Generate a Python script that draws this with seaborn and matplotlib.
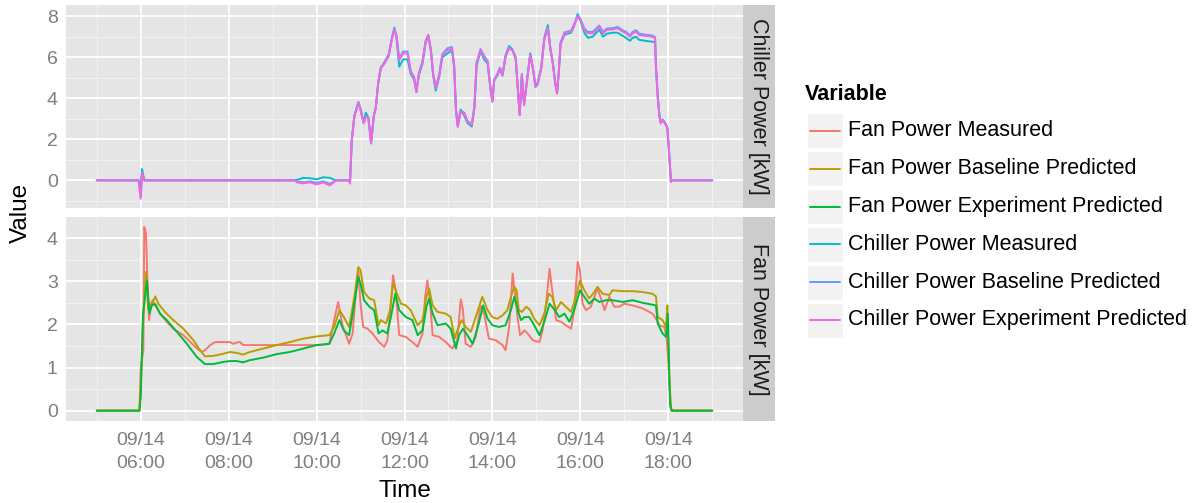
import numpy as np
import pandas as pd
import matplotlib
matplotlib.use("Agg")
import matplotlib.pyplot as plt
import matplotlib.dates as mdates
from matplotlib.lines import Line2D
from matplotlib.patches import Rectangle
import seaborn as sns

# ---------------- data (hours of day, kW) ----------------
chiller_meas_t = [5.0, 5.95, 6.0, 6.03, 6.08, 9.5, 9.6, 9.7, 9.85, 10.0, 10.15, 10.3, 10.43, 10.74, 10.76, 10.8, 10.86,
                  10.95, 11.0, 11.07, 11.12, 11.18, 11.24, 11.3, 11.35, 11.4, 11.46, 11.54, 11.64, 11.71, 11.77, 11.82,
                  11.88, 11.97, 12.07, 12.14, 12.22, 12.27, 12.33, 12.41, 12.48, 12.54, 12.6, 12.65, 12.71, 12.79, 12.86,
                  12.98, 13.08, 13.13, 13.17, 13.21, 13.28, 13.36, 13.43, 13.53, 13.59, 13.64, 13.73, 13.81, 13.89, 13.96,
                  14.0, 14.04, 14.11, 14.17, 14.23, 14.3, 14.38, 14.45, 14.53, 14.58, 14.62, 14.67, 14.72, 14.8, 14.86,
                  14.92, 14.98, 15.03, 15.11, 15.18, 15.26, 15.32, 15.37, 15.43, 15.47, 15.51, 15.55, 15.64, 15.79, 15.86,
                  15.94, 16.0, 16.09, 16.17, 16.28, 16.43, 16.52, 16.6, 16.73, 16.85, 16.96, 17.04, 17.13, 17.19, 17.27,
                  17.34, 17.49, 17.64, 17.7, 17.72, 17.76, 17.8, 17.83, 17.87, 17.95, 17.98, 18.02, 18.06, 18.1, 19.0]
chiller_meas_v = [0, 0, -0.3, 0.55, 0, 0, 0.05, 0.12, 0.1, 0.05, 0.15, 0.12, 0.0, 0, -0.12, 1.95, 3.15,
                  3.8, 3.5, 2.85, 3.3, 3.05, 1.85, 3.1, 3.6, 4.7, 5.45, 5.7, 6.05, 6.9, 7.45, 6.9,
                  5.54, 5.9, 5.9, 5.2, 4.9, 4.3, 5.15, 5.7, 6.7, 7.05, 6.3, 5.15, 4.37, 5.05, 6.0,
                  6.19, 6.35, 5.5, 3.5, 2.7, 3.45, 3.15, 2.8, 2.62, 3.5, 5.6, 6.3, 5.9, 5.7, 4.35,
                  3.85, 4.85, 5.1, 5.4, 5.1, 6.1, 6.55, 6.4, 5.9, 4.4, 3.2, 5.15, 3.7, 5.1, 6.2,
                  5.45, 4.55, 4.7, 5.45, 6.95, 7.57, 6.4, 5.75, 4.7, 4.25, 5.25, 6.65, 7.1, 7.2, 7.55,
                  8.11, 7.8, 7.2, 6.95, 7.0, 7.35, 7.0, 7.15, 7.2, 7.2, 7.05, 6.95, 6.8, 6.95, 7.0,
                  6.85, 6.8, 6.76, 6.72, 5.5, 4.1, 3.15, 2.85, 2.95, 2.72, 2.55, 1.35, -0.05, 0, 0]

chiller_base_t = [5.0, 5.95, 6.0, 6.03, 6.08, 9.5, 9.55, 9.7, 9.85, 10.0, 10.15, 10.3, 10.42, 10.45, 10.74, 10.76, 10.8,
                  10.86, 10.95, 11.0, 11.07, 11.12, 11.18, 11.24, 11.3, 11.35, 11.4, 11.46, 11.54, 11.64, 11.71, 11.77,
                  11.82, 11.88, 11.97, 12.07, 12.14, 12.22, 12.27, 12.33, 12.41, 12.48, 12.54, 12.6, 12.65, 12.71, 12.79,
                  12.86, 12.98, 13.08, 13.13, 13.17, 13.21, 13.28, 13.36, 13.43, 13.53, 13.59, 13.64, 13.73, 13.81, 13.89,
                  13.96, 14.0, 14.04, 14.11, 14.17, 14.23, 14.3, 14.38, 14.45, 14.53, 14.58, 14.62, 14.67, 14.72, 14.8,
                  14.86, 14.92, 14.98, 15.03, 15.11, 15.18, 15.26, 15.32, 15.37, 15.43, 15.47, 15.51, 15.55, 15.64, 15.79,
                  15.86, 15.94, 16.0, 16.09, 16.17, 16.28, 16.43, 16.52, 16.6, 16.73, 16.85, 16.96, 17.04, 17.13, 17.19,
                  17.27, 17.34, 17.49, 17.64, 17.7, 17.72, 17.76, 17.8, 17.83, 17.87, 17.95, 17.98, 18.02, 18.06, 18.1, 19.0]
chiller_base_v = [0, 0, -0.8, 0.4, 0, 0, -0.05, -0.1, -0.05, -0.12, -0.05, -0.18, -0.03, 0, 0, -0.14, 1.95,
                  3.12, 3.82, 3.45, 2.8, 3.15, 3.02, 1.82, 3.12, 3.6, 4.75, 5.5, 5.75, 6.15, 6.88, 7.38,
                  7.05, 5.95, 6.28, 6.28, 5.35, 5.02, 4.36, 5.25, 5.82, 6.8, 7.1, 6.4, 5.25, 4.52, 5.18,
                  6.15, 6.45, 6.5, 5.6, 3.45, 2.65, 3.38, 3.3, 2.9, 2.74, 3.62, 5.75, 6.4, 6.08, 5.82,
                  4.45, 3.88, 4.92, 5.18, 5.5, 5.18, 6.08, 6.48, 6.4, 6.0, 4.45, 3.22, 5.18, 3.7, 5.1,
                  6.15, 5.5, 4.6, 4.78, 5.5, 6.9, 7.45, 6.4, 5.82, 4.76, 4.27, 5.33, 6.72, 7.22, 7.3,
                  7.62, 8.02, 7.88, 7.4, 7.24, 7.24, 7.55, 7.24, 7.4, 7.42, 7.48, 7.32, 7.24, 7.06, 7.24,
                  7.32, 7.15, 7.1, 7.06, 6.98, 5.6, 4.1, 3.12, 2.8, 2.97, 2.72, 2.55, 1.32, -0.07, 0, 0]

chiller_exp_t = chiller_base_t
chiller_exp_v = [0, 0, -0.9, 0.35, 0, 0, -0.1, -0.15, -0.1, -0.2, -0.1, -0.25, -0.05, 0, 0, -0.16, 1.95,
                 3.1, 3.78, 3.42, 2.77, 3.1, 3.0, 1.79, 3.1, 3.58, 4.72, 5.46, 5.7, 6.1, 6.84, 7.36,
                 7.0, 5.86, 6.19, 6.19, 5.29, 4.97, 4.32, 5.21, 5.78, 6.76, 7.08, 6.35, 5.21, 4.48, 5.13,
                 6.1, 6.35, 6.43, 5.54, 3.42, 2.6, 3.34, 3.26, 2.85, 2.69, 3.58, 5.7, 6.35, 6.03, 5.78,
                 4.4, 3.83, 4.89, 5.13, 5.46, 5.13, 6.03, 6.43, 6.35, 5.94, 4.4, 3.18, 5.13, 3.66, 5.05,
                 6.1, 5.46, 4.56, 4.72, 5.46, 6.84, 7.41, 6.35, 5.78, 4.72, 4.23, 5.29, 6.68, 7.17, 7.25,
                 7.57, 7.98, 7.82, 7.33, 7.17, 7.17, 7.49, 7.17, 7.33, 7.36, 7.41, 7.25, 7.17, 7.0, 7.17,
                 7.25, 7.08, 7.04, 7.0, 6.92, 5.54, 4.07, 3.09, 2.77, 2.93, 2.69, 2.52, 1.3, -0.08, 0, 0]

fan_meas_t = [5.0, 5.97, 6.0, 6.06, 6.08, 6.12, 6.15, 6.19, 6.23, 6.27, 6.33, 6.44, 6.59, 6.74, 6.97, 7.12, 7.27,
              7.39, 7.46, 7.58, 7.69, 8.03, 8.11, 8.18, 8.26, 8.33, 9.0, 9.7, 10.06, 10.29, 10.4, 10.49, 10.59, 10.74,
              10.82, 10.89, 10.95, 11.0, 11.06, 11.16, 11.27, 11.42, 11.54, 11.61, 11.69, 11.74, 11.8, 11.88, 12.03,
              12.18, 12.3, 12.41, 12.47, 12.52, 12.58, 12.64, 12.79, 12.94, 13.09, 13.2, 13.28, 13.33, 13.39, 13.51,
              13.62, 13.73, 13.81, 13.92, 14.08, 14.23, 14.3, 14.38, 14.46, 14.52, 14.58, 14.63, 14.73, 14.8, 14.92,
              15.07, 15.14, 15.22, 15.3, 15.36, 15.45, 15.56, 15.67, 15.79, 15.86, 15.94, 15.99, 16.05, 16.13, 16.24,
              16.39, 16.47, 16.55, 16.66, 16.77, 16.89, 17.0, 17.19, 17.42, 17.64, 17.72, 17.8, 17.91, 17.96, 18.0,
              18.05, 18.08, 19.0]
fan_meas_v = [0, 0, 1.0, 1.4, 4.26, 4.1, 3.1, 2.1, 2.48, 2.56, 2.44, 2.25, 2.06, 1.9, 1.75, 1.6, 1.45,
              1.36, 1.4, 1.52, 1.59, 1.59, 1.55, 1.58, 1.59, 1.52, 1.52, 1.52, 1.52, 1.55, 2.1, 2.52, 1.98, 1.55,
              1.79, 2.71, 3.26, 2.48, 1.94, 1.9, 1.79, 1.59, 1.48, 1.63, 2.48, 3.14, 2.79, 1.75, 1.71,
              1.59, 1.48, 1.79, 2.64, 3.02, 2.56, 1.75, 1.71, 1.59, 1.44, 1.63, 2.58, 2.33, 1.55, 1.48,
              1.71, 2.44, 2.25, 1.67, 1.63, 1.52, 1.4, 1.94, 3.18, 2.64, 2.1, 1.75, 1.86, 1.79, 1.63,
              1.59, 1.86, 2.48, 3.29, 2.79, 2.1, 2.06, 1.98, 1.9, 2.33, 3.45, 3.26, 2.48, 2.33, 2.41,
              2.83, 2.6, 2.33, 2.64, 2.41, 2.41, 2.48, 2.44, 2.37, 2.25, 2.13, 1.98, 1.94, 1.71, 1.17,
              0.09, 0, 0]

fan_base_t = [5.0, 5.97, 6.0, 6.05, 6.12, 6.17, 6.23, 6.33, 6.4, 6.55, 6.74, 6.97, 7.2, 7.35, 7.46, 7.65, 7.88,
              8.03, 8.18, 8.33, 8.48, 8.79, 9.09, 9.39, 9.7, 10.0, 10.29, 10.4, 10.52, 10.62, 10.74, 10.86, 10.95,
              11.0, 11.08, 11.2, 11.31, 11.41, 11.46, 11.58, 11.67, 11.74, 11.8, 11.92, 12.03, 12.14, 12.3, 12.41,
              12.5, 12.56, 12.64, 12.75, 12.94, 13.05, 13.14, 13.2, 13.3, 13.39, 13.51, 13.62, 13.77, 13.89, 14.0,
              14.11, 14.23, 14.34, 14.44, 14.5, 14.55, 14.6, 14.67, 14.77, 14.86, 14.95, 15.07, 15.18, 15.28, 15.36,
              15.45, 15.56, 15.67, 15.79, 15.9, 15.99, 16.09, 16.2, 16.32, 16.39, 16.51, 16.66, 16.73, 16.96, 17.19,
              17.42, 17.64, 17.72, 17.76, 17.87, 17.95, 17.98, 18.02, 18.07, 19.0]
fan_base_v = [0, 0, 0.5, 2.0, 3.22, 2.33, 2.4, 2.65, 2.48, 2.29, 2.1, 1.9, 1.63, 1.4, 1.26, 1.27, 1.32,
              1.36, 1.34, 1.3, 1.36, 1.44, 1.52, 1.59, 1.67, 1.72, 1.75, 1.94, 2.33, 2.17, 1.94, 2.64, 3.33,
              3.26, 2.75, 2.6, 2.56, 1.98, 2.1, 2.02, 2.33, 2.95, 2.79, 2.48, 2.44, 2.33, 1.98, 2.1,
              2.64, 2.83, 2.44, 2.29, 2.25, 2.17, 1.67, 1.86, 2.1, 1.94, 1.83, 2.17, 2.64, 2.33, 2.17,
              2.13, 2.21, 2.33, 2.71, 2.87, 2.79, 2.33, 2.29, 2.41, 2.33, 2.13, 1.98, 2.25, 2.71, 2.64,
              2.33, 2.52, 2.41, 2.29, 2.64, 3.02, 2.79, 2.6, 2.75, 2.87, 2.71, 2.68, 2.79, 2.77, 2.77,
              2.75, 2.71, 2.65, 2.17, 2.1, 1.94, 2.44, 0.78, 0, 0]

fan_exp_t = [5.0, 5.97, 6.0, 6.05, 6.14, 6.2, 6.25, 6.33, 6.44, 6.59, 6.82, 7.05, 7.27, 7.46, 7.65, 7.88, 8.03,
             8.18, 8.33, 8.48, 8.79, 9.09, 9.39, 9.7, 10.0, 10.29, 10.4, 10.52, 10.62, 10.74, 10.86, 10.95, 11.0,
             11.08, 11.2, 11.31, 11.41, 11.5, 11.61, 11.69, 11.79, 11.88, 12.03, 12.18, 12.3, 12.41, 12.5, 12.56,
             12.64, 12.75, 12.94, 13.05, 13.17, 13.24, 13.33, 13.43, 13.55, 13.67, 13.79, 13.89, 14.0, 14.15, 14.3,
             14.42, 14.5, 14.6, 14.65, 14.73, 14.84, 14.95, 15.07, 15.18, 15.3, 15.42, 15.52, 15.64, 15.75, 15.86,
             15.99, 16.09, 16.2, 16.32, 16.43, 16.58, 16.73, 16.96, 17.19, 17.42, 17.72, 17.76, 17.87, 17.95, 17.99,
             18.04, 18.08, 19.0]
fan_exp_v = [0, 0, 0.3, 2.2, 3.02, 2.25, 2.44, 2.47, 2.25, 2.1, 1.83, 1.55, 1.25, 1.08, 1.08, 1.13, 1.15,
             1.15, 1.12, 1.17, 1.23, 1.31, 1.36, 1.44, 1.52, 1.55, 1.79, 2.1, 1.86, 1.75, 2.48, 3.1, 2.95,
             2.56, 2.41, 2.33, 1.79, 1.86, 1.79, 2.17, 2.71, 2.33, 2.17, 2.1, 1.75, 1.86, 2.41, 2.6,
             2.25, 1.98, 2.02, 1.9, 1.44, 1.75, 1.9, 1.75, 1.55, 1.94, 2.44, 2.13, 1.98, 1.94, 1.98,
             2.33, 2.64, 2.25, 2.1, 2.17, 2.17, 1.98, 1.75, 2.06, 2.48, 2.33, 2.17, 2.25, 2.06, 2.33,
             2.79, 2.64, 2.48, 2.6, 2.52, 2.56, 2.56, 2.52, 2.56, 2.5, 2.44, 2.02, 1.79, 1.71, 2.25,
             0.16, 0, 0]

variables = ["Fan Power Measured", "Fan Power Baseline Predicted", "Fan Power Experiment Predicted",
             "Chiller Power Measured", "Chiller Power Baseline Predicted", "Chiller Power Experiment Predicted"]
colors = ["#F8766D", "#B79F00", "#00BA38", "#00BFC4", "#619CFF", "#F564E3"]
facets = ["Chiller Power [kW]", "Fan Power [kW]"]
xtick_hours = [6, 8, 10, 12, 14, 16, 18]

# ---------------- build long table ----------------
base = pd.Timestamp("2013-09-14")
series = [(fan_meas_t, fan_meas_v), (fan_base_t, fan_base_v), (fan_exp_t, fan_exp_v),
          (chiller_meas_t, chiller_meas_v), (chiller_base_t, chiller_base_v), (chiller_exp_t, chiller_exp_v)]
frames = []
for name, (t, v) in zip(variables, series):
    facet = facets[1] if name.startswith("Fan") else facets[0]
    frames.append(pd.DataFrame({"Time": base + pd.to_timedelta(np.array(t), unit="h"),
                                "Value": v, "Variable": name, "Facet": facet}))
df = pd.concat(frames, ignore_index=True)
palette = dict(zip(variables, colors))

# ---------------- figure ----------------
sns.set_style("white")
plt.rcParams["font.family"] = ["Liberation Sans", "DejaVu Sans"]

W, H = 1193, 503
fig = plt.figure(figsize=(W / 100, H / 100), dpi=100)

def fx(px):
    return px / W

def fy(py):
    return 1 - py / H

L, R = 66, 743
panels = [(5, 208), (217, 421)]
axes = []
for (top, bot) in panels:
    ax = fig.add_axes([fx(L), fy(bot), fx(R - L), (bot - top) / H])
    axes.append(ax)

grey50 = "#7F7F7F"
for i, (ax, facet) in enumerate(zip(axes, facets)):
    sub = df[df["Facet"] == facet]
    order = [v for v in variables if sub["Variable"].eq(v).any()]
    sns.lineplot(data=sub, x="Time", y="Value", hue="Variable", hue_order=order,
                 palette=palette, estimator=None, sort=False, linewidth=1.4,
                 legend=False, ax=ax)
    ax.set_facecolor("#E5E5E5")
    for s in ax.spines.values():
        s.set_visible(False)
    ax.set_xlabel("")
    ax.set_ylabel("")
    ax.set_xlim(base + pd.Timedelta(hours=4.3), base + pd.Timedelta(hours=19.7))
    ax.xaxis.set_major_locator(mdates.HourLocator(byhour=xtick_hours))
    ax.xaxis.set_minor_locator(mdates.HourLocator(byhour=[h + 1 for h in xtick_hours] + [5]))
    ax.xaxis.set_major_formatter(mdates.DateFormatter("%m/%d\n%H:%M"))
    if i == 0:
        ax.set_ylim(-1.35, 8.55)
        ax.set_yticks([0, 2, 4, 6, 8])
        ax.set_yticks([-1, 1, 3, 5, 7], minor=True)
    else:
        ax.set_ylim(-0.24, 4.49)
        ax.set_yticks([0, 1, 2, 3, 4])
        ax.set_yticks([0.5, 1.5, 2.5, 3.5], minor=True)
    ax.grid(which="major", color="white", linewidth=1.3)
    ax.grid(which="minor", color="#F2F2F2", linewidth=0.7)
    ax.set_axisbelow(True)
    ax.tick_params(axis="both", which="major", length=4, width=1, color=grey50,
                   labelcolor=grey50, labelsize=14, pad=2)
    ax.tick_params(axis="both", which="minor", length=0)
    if i == 0:
        ax.tick_params(axis="x", which="major", bottom=False, labelbottom=False)
    else:
        ax.tick_params(axis="x", which="major", pad=4)
        for lab in ax.get_xticklabels():
            lab.set_linespacing(1.45)

    # right strip
    top, bot = panels[i]
    sax = fig.add_axes([fx(R), fy(bot), fx(775 - R), (bot - top) / H])
    sax.set_facecolor("#CCCCCC")
    sax.set_xticks([])
    sax.set_yticks([])
    for s in sax.spines.values():
        s.set_visible(False)
    sax.text(0.5, 0.5, facet, rotation=270, ha="center", va="center",
             fontsize=15.5, color="#1A1A1A", transform=sax.transAxes)

# axis titles
fig.text(fx(21), fy(213), "Value", rotation=90, ha="center", va="center", fontsize=17.5, color="black")
fig.text(fx((L + R) / 2), fy(491), "Time", ha="center", va="center", fontsize=17.5, color="black")

# legend (manual, ggplot style)
fig.text(fx(805), fy(95), "Variable", ha="left", va="center", fontsize=15.5, fontweight="bold", color="black")
row0, step = 131, 37.8
for k, (name, col) in enumerate(zip(variables, colors)):
    yc = row0 + k * step
    fig.add_artist(Rectangle((fx(807), fy(yc + 17.5)), fx(36), 35 / H, transform=fig.transFigure,
                             facecolor="#F2F2F2", edgecolor="white", linewidth=1))
    fig.add_artist(Line2D([fx(810), fx(840)], [fy(yc), fy(yc)], transform=fig.transFigure,
                          color=col, linewidth=1.4))
    fig.text(fx(848), fy(yc), name, ha="left", va="center", fontsize=15.5, color="black")

fig.savefig("out.png", dpi=100)
